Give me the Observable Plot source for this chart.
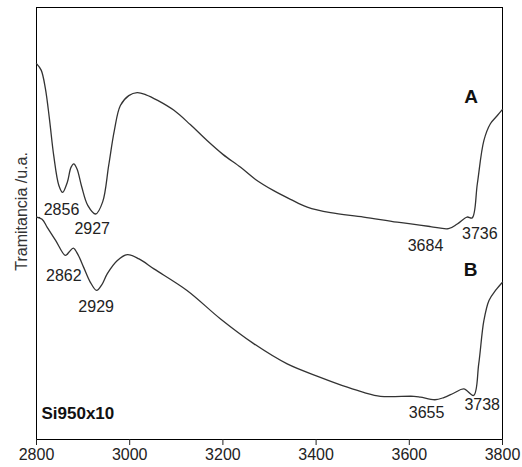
<!DOCTYPE html>
<html>
<head>
<meta charset="utf-8">
<script src="https://cdn.jsdelivr.net/npm/d3@7"></script>
<script src="https://cdn.jsdelivr.net/npm/@observablehq/plot@0.6"></script>
<style>
  html, body { margin: 0; padding: 0; background: #fff; }
  svg { font-family: "Liberation Sans", Arial, sans-serif; }
</style>
</head>
<body>
<div id="chart"></div>
<script>
// Wavenumber (cm-1) and transmittance (a.u.)
const wavenumberA = [2800, 2810, 2819, 2828, 2837, 2848, 2856, 2866, 2874, 2880, 2887, 2897, 2910, 2927, 2942, 2955, 2967, 2980, 2998, 3016, 3035, 3060, 3095, 3130, 3166, 3200, 3238, 3270, 3309, 3345, 3381, 3431, 3502, 3574, 3645, 3684, 3703, 3724, 3735, 3746, 3760, 3774, 3789, 3800];
const transA =      [87.0, 85.5, 81.3, 74.0, 65.7, 58.8, 57.2, 59.5, 63.0, 63.8, 62.6, 58.5, 54.2, 52.2, 55.0, 63.5, 71.5, 77.3, 79.6, 80.3, 79.8, 78.5, 76.2, 72.9, 69.2, 66.0, 63.0, 60.2, 57.6, 55.6, 53.8, 52.5, 51.5, 50.3, 49.3, 48.8, 49.9, 51.5, 51.3, 59.2, 69.2, 73.1, 75.0, 76.4];

const wavenumberB = [2800, 2812, 2823, 2841, 2862, 2870, 2879, 2889, 2901, 2915, 2929, 2940, 2952, 2973, 2995, 3020, 3052, 3123, 3195, 3266, 3338, 3409, 3467, 3502, 3538, 3610, 3624, 3655, 3674, 3695, 3717, 3738, 3749, 3760, 3771, 3785, 3800];
const transB =      [51.5, 51.0, 49.1, 46.1, 42.6, 43.4, 44.3, 42.8, 39.9, 36.5, 34.5, 35.8, 38.4, 41.4, 42.8, 41.8, 39.5, 34.5, 27.9, 22.2, 17.5, 14.4, 12.1, 10.9, 10.0, 10.0, 9.8, 9.2, 9.7, 10.7, 11.7, 10.2, 17.5, 27.5, 32.2, 34.5, 36.4];

// Peak labels (text, label x in cm-1, label y in a.u.)
const peakText = ["2856", "2927", "3684", "3736", "2862", "2929", "3655", "3738"];
const peakX =    [2853.6, 2919.5, 3634.8, 3751.3, 2858.6, 2928, 3637, 3756.4];
const peakY =    [53.2, 48.8, 44.9, 47.6, 37.8, 30.8, 6.2, 8.1];

const seriesText = ["A", "B"];
const seriesX = [3732.8, 3731.3];
const seriesY = [79.2, 39.3];

const sampleName = "Si950x10";
const yLabel = "Tramitancia /u.a.";
const yLabelAt = 52.8;
const yStrayTick = [51.4];
const xTicks = [2800, 3000, 3200, 3400, 3600, 3800];

const lineA = wavenumberA.map((x, i) => ({x, y: transA[i]}));
const lineB = wavenumberB.map((x, i) => ({x, y: transB[i]}));
const peaks = peakText.map((t, i) => ({t, x: peakX[i], y: peakY[i]}));
const series = seriesText.map((t, i) => ({t, x: seriesX[i], y: seriesY[i]}));

const chart = Plot.plot({
  width: 522,
  height: 467,
  marginTop: 7,
  marginBottom: 28,
  marginLeft: 36,
  marginRight: 20,
  x: {domain: [2800, 3800]},
  y: {domain: [0, 100]},
  marks: [
    Plot.frame({stroke: "#000", strokeWidth: 1}),
    Plot.axisX({ticks: xTicks, tickSize: 6, tickFormat: d => String(d), fontSize: 16, label: null, tickPadding: 3, color: "#222"}),
    Plot.axisY({ticks: yStrayTick, tickSize: -4, tickFormat: () => "", label: null}),
    Plot.line(lineA, {x: "x", y: "y", curve: "catmull-rom", stroke: "#333", strokeWidth: 1.3}),
    Plot.line(lineB, {x: "x", y: "y", curve: "catmull-rom", stroke: "#333", strokeWidth: 1.3}),
    Plot.text(peaks, {x: "x", y: "y", text: "t", fontSize: 16, fill: "#222"}),
    Plot.text(series, {x: "x", y: "y", text: "t", fontSize: 19, fontWeight: "bold", fill: "#111"}),
    Plot.text([sampleName], {x: 2810.7, y: 5.9, text: d => d, textAnchor: "start", fontSize: 17, fontWeight: "bold", fill: "#111"}),
    Plot.text([yLabel], {frameAnchor: "left", y: () => yLabelAt, text: d => d, textAnchor: "middle", rotate: -90, dx: -15, fontSize: 16, fill: "#333"})
  ]
});
document.getElementById("chart").appendChild(chart);
</script>
</body>
</html>
